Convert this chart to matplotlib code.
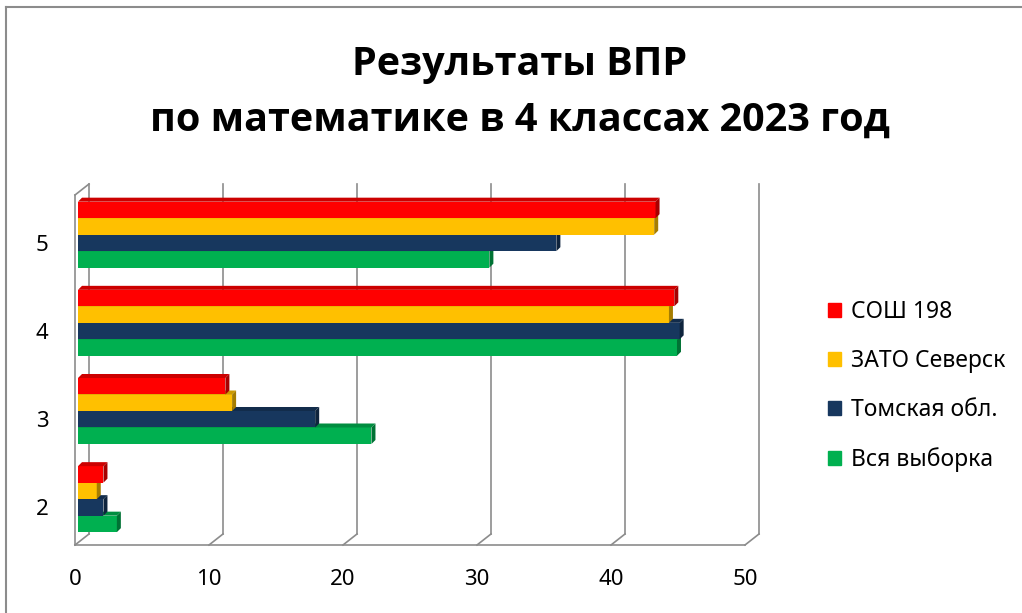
#Результаты ВПР - горизонтальные столбцы с эффектом объёма как в Excel
from matplotlib import pyplot as plt
from matplotlib.patches import Polygon, Patch
from matplotlib.lines import Line2D
from matplotlib.colors import to_rgb

plt.rcParams['font.family'] = ['Noto Sans', 'DejaVu Sans']

#данные
categories = ['2', '3', '4', '5']
series = ['СОШ 198', 'ЗАТО Северск', 'Томская обл.', 'Вся выборка']
sosh198 = [1.9, 11.0, 44.5, 43.1]
zato = [1.4, 11.5, 44.1, 43.0]
tomsk = [1.9, 17.7, 44.9, 35.7]
vsya = [2.9, 21.9, 44.7, 30.7]
colors = ['#FF0000', '#FFC000', '#17375E', '#00B050']
title1 = 'Результаты ВПР'
title2 = 'по математике в 4 классах 2023 год'

W, H = 1022, 613
fig = plt.figure(figsize=(W / 100, H / 100), dpi=100)
ax = fig.add_axes([75 / W, 1 - 545 / H, 670 / W, 350 / H])
x0, x1 = 0, 50
y0, y1 = -0.52, 3.45
ax.set_xlim(x0, x1)
ax.set_ylim(y0, y1)

#пиксели -> данные
kx = (x1 - x0) / 670
ky = (y1 - y0) / 350

#стенки и сетка
grid_c = '#8C8C8C'
DX, DY = 14 * kx, 11 * ky
for t in range(0, 51, 10):
    ax.plot([t + DX, t + DX], [y0 + DY, y1 + DY], color=grid_c, lw=1.2, clip_on=False, zorder=1)
    ax.plot([t, t + DX], [y0, y0 + DY], color=grid_c, lw=1.2, clip_on=False, zorder=1)
ax.plot([0, 0], [y0, y1], color=grid_c, lw=1.2, clip_on=False, zorder=1)
ax.plot([0, DX], [y1, y1 + DY], color=grid_c, lw=1.2, clip_on=False, zorder=1)
ax.plot([0, 50], [y0, y0], color=grid_c, lw=1.2, clip_on=False, zorder=1)

#столбцы
values = [sosh198, zato, tomsk, vsya]
BX = 3 * kx
h = 16.5 * ky
sdx, sdy = 4 * kx, 4 * ky
z = 3
for i in [3, 2, 1, 0]:
    c = to_rgb(colors[i])
    top_c = tuple(v * 0.8 for v in c)
    side_c = tuple(v * 0.65 for v in c)
    for j, v in enumerate(values[i]):
        y = j + (1.5 - i) * h
        yb, yt = y - h / 2, y + h / 2
        ax.barh(y, v, height=h, left=BX, color=colors[i], zorder=z)
        ax.add_patch(Polygon([(BX, yt), (BX + v, yt), (BX + v + sdx, yt + sdy), (BX + sdx, yt + sdy)],
                             closed=True, color=top_c, lw=0, zorder=z, clip_on=False))
        ax.add_patch(Polygon([(BX + v, yb), (BX + v + sdx, yb + sdy), (BX + v + sdx, yt + sdy), (BX + v, yt)],
                             closed=True, color=side_c, lw=0, zorder=z, clip_on=False))
    z += 1

#оси
ax.set_xticks(range(0, 51, 10))
ax.set_yticks(range(len(categories)))
ax.set_yticklabels(categories, va='top')
ax.tick_params(axis='x', length=0, pad=17, labelsize=16)
ax.tick_params(axis='y', length=0, pad=19, labelsize=16)
for s in ax.spines.values():
    s.set_visible(False)

#заголовок
tfont = dict(ha='center', va='center', fontsize=28.5, fontweight='bold',
             family=['Open Sans', 'Liberation Sans', 'DejaVu Sans'])
fig.text(520 / W, 1 - 65 / H, title1, **tfont)
fig.text(520 / W, 1 - 120 / H, title2, **tfont)

#легенда
handles = [Patch(color=c) for c in colors]
fig.legend(handles, series, loc='upper left', bbox_to_anchor=(828 / W, 1 - 300 / H),
           frameon=False, fontsize=16.5, handlelength=0.55, handleheight=0.55,
           handletextpad=0.45, labelspacing=1.1, borderpad=0, borderaxespad=0)

#рамка
fig.add_artist(Line2D([6 / W, 6 / W], [0, 1 - 7 / H], color='#8C8C8C', lw=1.5))
fig.add_artist(Line2D([6 / W, 1], [1 - 7 / H, 1 - 7 / H], color='#8C8C8C', lw=1.5))

plt.savefig('out.png')
